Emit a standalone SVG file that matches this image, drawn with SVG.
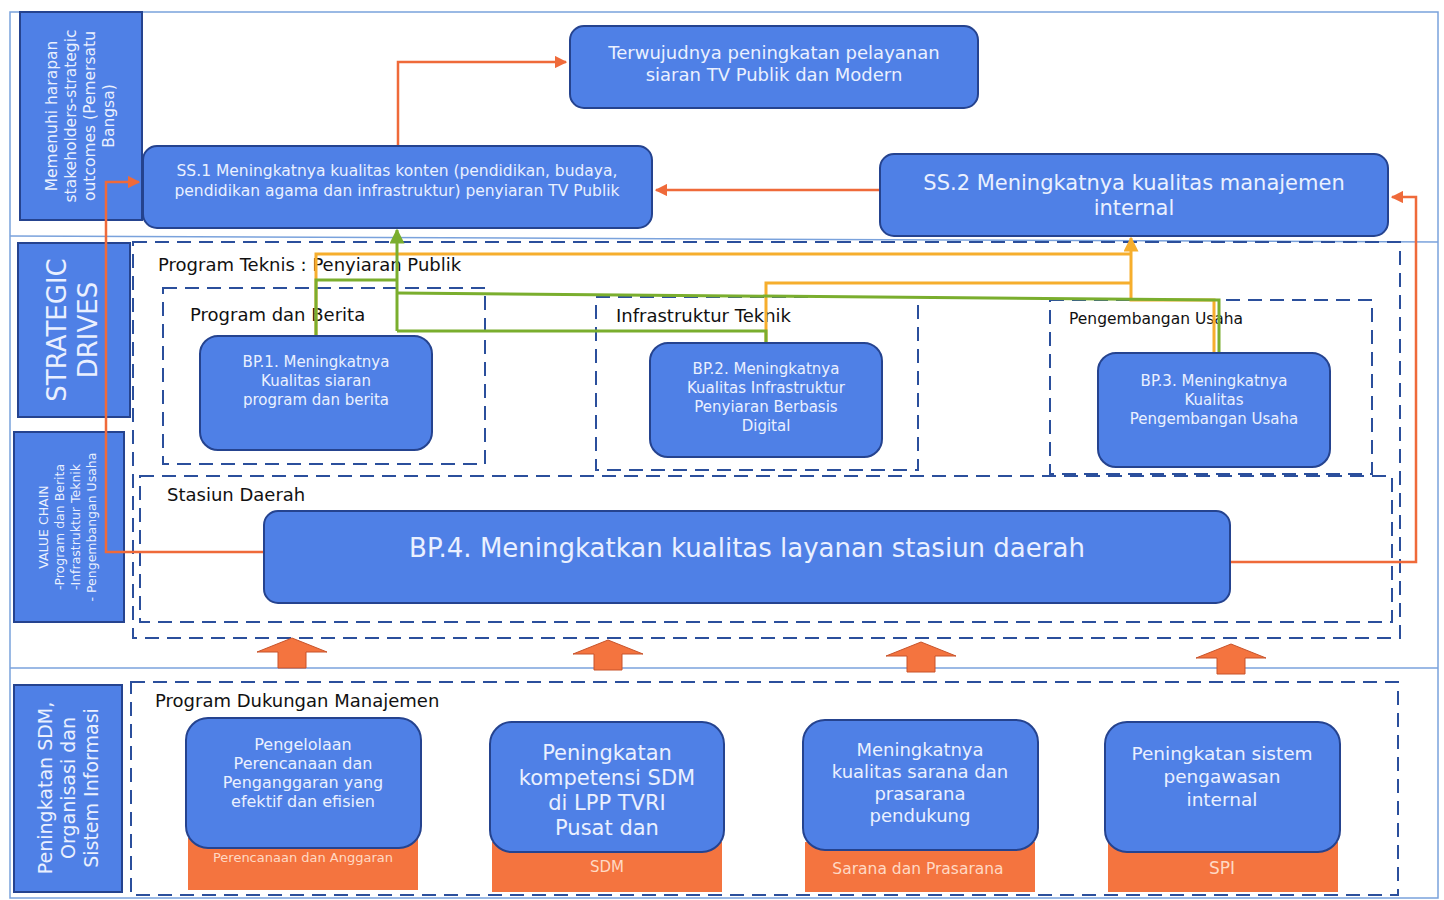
<svg xmlns="http://www.w3.org/2000/svg" width="1444" height="900" viewBox="0 0 1444 900">
<defs>
<style>
.node{fill:#4f80e6;stroke:#25438f;stroke-width:2}
.side{fill:#4f80e6;stroke:#25438f;stroke-width:2}
.nt{fill:#eaf0ff;font-family:"DejaVu Sans","Noto Sans",sans-serif;text-anchor:middle}
.lbl{fill:#111;font-family:"DejaVu Sans","Noto Sans",sans-serif}
.dash{fill:none;stroke:#2b4f9c;stroke-width:2;stroke-dasharray:14 8}
.org{fill:#f4743f}
.ot{fill:#ffd9c4;font-family:"DejaVu Sans","Noto Sans",sans-serif;text-anchor:middle}
.co{fill:none;stroke:#ef6a3a;stroke-width:2.5}
.cg{fill:none;stroke:#7aae2e;stroke-width:3}
.cy{fill:none;stroke:#f6ae2d;stroke-width:3}
.frame{fill:none;stroke:#7aa2dc;stroke-width:1.5}
.blk{fill:#f4743f;stroke:#c8532a;stroke-width:1}
</style>
<marker id="ao" viewBox="0 0 10 10" refX="9" refY="5" markerWidth="5" markerHeight="5" orient="auto"><path d="M0,0L10,5L0,10z" fill="#ef6a3a"/></marker>
<marker id="ag" viewBox="0 0 10 10" refX="9" refY="5" markerWidth="5" markerHeight="5" orient="auto"><path d="M0,0L10,5L0,10z" fill="#7aae2e"/></marker>
<marker id="ay" viewBox="0 0 10 10" refX="9" refY="5" markerWidth="5" markerHeight="5" orient="auto"><path d="M0,0L10,5L0,10z" fill="#f6ae2d"/></marker>
</defs>
<rect width="1444" height="900" fill="#fff"/>
<rect class="frame" x="10" y="12" width="1428" height="886"/>
<line class="frame" x1="10" y1="236" x2="1438" y2="242"/>
<line class="frame" x1="10" y1="668" x2="1438" y2="668"/>

<g id="side-labels">
<g id="side1"><rect class="side" x="20" y="12" width="122" height="208"/>
<text class="nt" font-size="15.5" transform="translate(81,116) rotate(-90)"><tspan x="0" y="-24">Memenuhi harapan</tspan><tspan x="0" y="-5">stakeholders-strategic</tspan><tspan x="0" y="14">outcomes (Pemersatu</tspan><tspan x="0" y="33">Bangsa)</tspan></text></g>
<g id="side2"><rect class="side" x="18" y="243" width="112" height="174"/>
<text class="nt" font-size="26" transform="translate(72,330) rotate(-90)"><tspan x="0" y="-6">STRATEGIC</tspan><tspan x="0" y="25">DRIVES</tspan></text></g>
<g id="side3"><rect class="side" x="14" y="432" width="110" height="190"/>
<text class="nt" font-size="12.5" transform="translate(68,527) rotate(-90)"><tspan x="0" y="-20">VALUE CHAIN</tspan><tspan x="0" y="-4">-Program dan Berita</tspan><tspan x="0" y="12">-Infrastruktur Teknik</tspan><tspan x="0" y="28">- Pengembangan Usaha</tspan></text></g>
<g id="side4"><rect class="side" x="14" y="685" width="108" height="207"/>
<text class="nt" font-size="19" transform="translate(68,788) rotate(-90)"><tspan x="0" y="-16">Peningkatan SDM,</tspan><tspan x="0" y="7">Organisasi dan</tspan><tspan x="0" y="30">Sistem Informasi</tspan></text></g>
</g>

<g id="containers">
<rect class="dash" x="133" y="242" width="1267" height="396"/>
<text class="lbl" x="158" y="271" font-size="18">Program Teknis : Penyiaran Publik</text>
<rect class="dash" x="163" y="288" width="322" height="176"/>
<text class="lbl" x="190" y="321" font-size="18">Program dan Berita</text>
<rect class="dash" x="596" y="297" width="322" height="173"/>
<text class="lbl" x="616" y="322" font-size="18">Infrastruktur Teknik</text>
<rect class="dash" x="1050" y="300" width="322" height="174"/>
<text class="lbl" x="1069" y="324" font-size="15.5">Pengembangan Usaha</text>
<rect class="dash" x="140" y="476" width="1252" height="146"/>
<text class="lbl" x="167" y="501" font-size="18">Stasiun Daerah</text>
<rect class="dash" x="131" y="682" width="1267" height="213"/>
<text class="lbl" x="155" y="707" font-size="18">Program Dukungan Manajemen</text>
</g>

<g id="connectors">
<path class="co" d="M398,146V62H566" marker-end="url(#ao)"/>
<path class="co" d="M880,190H656" marker-end="url(#ao)"/>
<path class="co" d="M264,552H106V182H139" marker-end="url(#ao)"/>
<path class="co" d="M1230,562H1416V197H1392" marker-end="url(#ao)"/>
<path class="cy" d="M316,336V254H1131"/>
<path class="cy" d="M766,343V283H1131"/>
<path class="cy" d="M1214,353V300H1131V238" marker-end="url(#ay)"/>
<path class="cg" d="M316,336V280H397"/>
<path class="cg" d="M766,343V331H397"/>
<path class="cg" d="M1219,353V300L397,293"/>
<path class="cg" d="M397,331V230" marker-end="url(#ag)"/>
</g>

<g id="block-arrows">
<path class="blk" d="M292,638L327,652H306V668H278V652H257Z"/>
<path class="blk" d="M608,640L643,654H622V670H594V654H573Z"/>
<path class="blk" d="M921,642L956,656H935V672H907V656H886Z"/>
<path class="blk" d="M1231,644L1266,658H1245V674H1217V658H1196Z"/>
</g>

<g id="n-top"><rect class="node" x="570" y="26" width="408" height="82" rx="14"/>
<text class="nt" font-size="18"><tspan x="774" y="59">Terwujudnya peningkatan pelayanan</tspan><tspan x="774" y="81">siaran TV Publik dan Modern</tspan></text></g>
<g id="n-ss1"><rect class="node" x="143" y="146" width="509" height="82" rx="14"/>
<text class="nt" font-size="15.5"><tspan x="397" y="176">SS.1 Meningkatnya kualitas konten (pendidikan, budaya,</tspan><tspan x="397" y="196">pendidikan agama dan infrastruktur) penyiaran TV Publik</tspan></text></g>
<g id="n-ss2"><rect class="node" x="880" y="154" width="508" height="82" rx="14"/>
<text class="nt" font-size="21"><tspan x="1134" y="190">SS.2 Meningkatnya kualitas manajemen</tspan><tspan x="1134" y="215">internal</tspan></text></g>
<g id="n-bp1"><rect class="node" x="200" y="336" width="232" height="114" rx="18"/>
<text class="nt" font-size="15"><tspan x="316" y="367">BP.1. Meningkatnya</tspan><tspan x="316" y="386">Kualitas siaran</tspan><tspan x="316" y="405">program dan berita</tspan></text></g>
<g id="n-bp2"><rect class="node" x="650" y="343" width="232" height="114" rx="18"/>
<text class="nt" font-size="15"><tspan x="766" y="374">BP.2. Meningkatnya</tspan><tspan x="766" y="393">Kualitas Infrastruktur</tspan><tspan x="766" y="412">Penyiaran Berbasis</tspan><tspan x="766" y="431">Digital</tspan></text></g>
<g id="n-bp3"><rect class="node" x="1098" y="353" width="232" height="114" rx="18"/>
<text class="nt" font-size="15"><tspan x="1214" y="386">BP.3. Meningkatnya</tspan><tspan x="1214" y="405">Kualitas</tspan><tspan x="1214" y="424">Pengembangan Usaha</tspan></text></g>
<g id="n-bp4"><rect class="node" x="264" y="511" width="966" height="92" rx="14"/>
<text class="nt" font-size="26" x="747" y="557">BP.4. Meningkatkan kualitas layanan stasiun daerah</text></g>

<g id="n-m1"><rect class="org" x="188" y="838" width="230" height="52"/>
<text class="ot" font-size="13" x="303" y="862">Perencanaan dan Anggaran</text>
<rect class="node" x="186" y="718" width="235" height="130" rx="22"/>
<text class="nt" font-size="16"><tspan x="303" y="750">Pengelolaan</tspan><tspan x="303" y="769">Perencanaan dan</tspan><tspan x="303" y="788">Penganggaran yang</tspan><tspan x="303" y="807">efektif dan efisien</tspan></text></g>
<g id="n-m2"><rect class="org" x="492" y="842" width="230" height="50"/>
<text class="ot" font-size="15" x="607" y="872">SDM</text>
<rect class="node" x="490" y="722" width="234" height="130" rx="22"/>
<text class="nt" font-size="21"><tspan x="607" y="760">Peningkatan</tspan><tspan x="607" y="785">kompetensi SDM</tspan><tspan x="607" y="810">di LPP TVRI</tspan><tspan x="607" y="835">Pusat dan</tspan></text></g>
<g id="n-m3"><rect class="org" x="805" y="842" width="230" height="50"/>
<text class="ot" font-size="15.5" x="918" y="874">Sarana dan Prasarana</text>
<rect class="node" x="803" y="720" width="235" height="130" rx="22"/>
<text class="nt" font-size="18"><tspan x="920" y="756">Meningkatnya</tspan><tspan x="920" y="778">kualitas sarana dan</tspan><tspan x="920" y="800">prasarana</tspan><tspan x="920" y="822">pendukung</tspan></text></g>
<g id="n-m4"><rect class="org" x="1108" y="842" width="230" height="50"/>
<text class="ot" font-size="17" x="1222" y="874">SPI</text>
<rect class="node" x="1105" y="722" width="235" height="130" rx="22"/>
<text class="nt" font-size="18.5"><tspan x="1222" y="760">Peningkatan sistem</tspan><tspan x="1222" y="783">pengawasan</tspan><tspan x="1222" y="806">internal</tspan></text></g>
</svg>
